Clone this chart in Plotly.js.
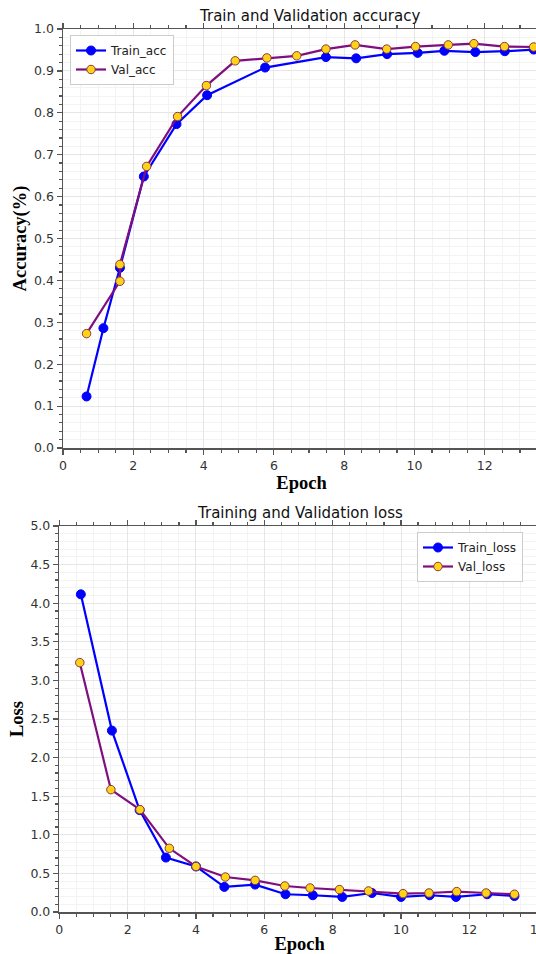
<!DOCTYPE html>
<html>
<head>
<meta charset="utf-8">
<script src="https://cdn.plot.ly/plotly-3.0.1.min.js"></script>
<style>
html,body{margin:0;padding:0;overflow:hidden;background:#fff;width:536px;height:954px;}
#chart{width:540px;height:954px;}
</style>
</head>
<body>
<div id="chart"></div>
<script>
// Accuracy chart data
const trainAccEpoch = [0.67, 1.15, 1.62, 2.30, 3.23, 4.10, 5.75, 7.48, 8.34, 9.22, 10.09, 10.85, 11.73, 12.57, 13.39];
const trainAcc      = [0.123, 0.286, 0.43, 0.648, 0.773, 0.842, 0.908, 0.933, 0.930, 0.940, 0.943, 0.948, 0.945, 0.947, 0.951];
const valAccEpoch   = [0.67, 1.62, 1.62, 2.38, 3.26, 4.08, 4.90, 5.80, 6.65, 7.48, 8.31, 9.21, 10.03, 10.96, 11.69, 12.56, 13.39];
const valAcc        = [0.273, 0.398, 0.438, 0.672, 0.791, 0.865, 0.924, 0.931, 0.936, 0.952, 0.962, 0.952, 0.958, 0.962, 0.965, 0.958, 0.957];

// Loss chart data
const trainLossEpoch = [0.63, 1.54, 2.35, 3.12, 4.0, 4.83, 5.73, 6.62, 7.42, 8.28, 9.15, 10.0, 10.84, 11.61, 12.52, 13.32];
const trainLoss      = [4.115, 2.35, 1.32, 0.705, 0.59, 0.325, 0.355, 0.23, 0.217, 0.195, 0.246, 0.195, 0.217, 0.195, 0.23, 0.207];
const valLossEpoch   = [0.60, 1.51, 2.36, 3.22, 4.0, 4.86, 5.73, 6.6, 7.34, 8.2, 9.05, 10.06, 10.82, 11.63, 12.49, 13.32];
const valLoss        = [3.23, 1.585, 1.326, 0.825, 0.59, 0.453, 0.41, 0.337, 0.311, 0.29, 0.272, 0.238, 0.246, 0.264, 0.246, 0.23];

const W = 540, H = 954;
const blue = '#0000ff', purple = '#7f0f7f', gold = '#ffd21a';

function trainTrace(x, y, name, xa, ya, lg) {
  return {x, y, name, type:'scatter', mode:'lines+markers', xaxis:xa, yaxis:ya, legend:lg,
    line:{color:blue, width:2.2}, marker:{color:blue, size:9, line:{color:blue, width:1}}};
}
function valTrace(x, y, name, xa, ya, lg) {
  return {x, y, name, type:'scatter', mode:'lines+markers', xaxis:xa, yaxis:ya, legend:lg,
    line:{color:purple, width:2.2}, marker:{color:gold, size:8.5, line:{color:'#8a3a3a', width:1}}};
}

const data = [
  trainTrace(trainAccEpoch, trainAcc, 'Train_acc', 'x', 'y', 'legend'),
  valTrace(valAccEpoch, valAcc, 'Val_acc', 'x', 'y', 'legend'),
  trainTrace(trainLossEpoch, trainLoss, 'Train_loss', 'x2', 'y2', 'legend2'),
  valTrace(valLossEpoch, valLoss, 'Val_loss', 'x2', 'y2', 'legend2')
];

const tickFont = {family:'DejaVu Sans, sans-serif', size:12.5, color:'#333'};
const axTitleFont = {family:'Liberation Serif, Times New Roman, serif', size:18.5, color:'#000', weight:'bold'};
const legFont = {family:'DejaVu Sans, sans-serif', size:12, color:'#222'};

function xAxis(domain, range, anchor) {
  return {domain, range, anchor, dtick:2, tick0:0, ticks:'outside', ticklen:5, tickwidth:1.2, tickcolor:'#555',
    showline:true, linecolor:'#555', linewidth:1.5, mirror:'ticks', zeroline:false, automargin:false,
    ticklabeloverflow:'allow',
    showgrid:true, gridcolor:'#e6e6e6', gridwidth:1,
    minor:{dtick:0.5, ticks:'outside', ticklen:3, tickcolor:'#555', showgrid:true, gridcolor:'#f3f3f3', gridwidth:1},
    tickfont:tickFont, fixedrange:true};
}
function yAxis(domain, range, dtick, mdtick, anchor, fmt) {
  return {domain, range, anchor, dtick, tick0:0, tickformat:fmt, ticks:'outside', ticklen:5, tickwidth:1.2, tickcolor:'#555',
    showline:true, linecolor:'#555', linewidth:1.5, mirror:'ticks', zeroline:false, automargin:false,
    showgrid:true, gridcolor:'#e6e6e6', gridwidth:1,
    minor:{dtick:mdtick, ticks:'outside', ticklen:3, tickcolor:'#555', showgrid:true, gridcolor:'#f3f3f3', gridwidth:1},
    tickfont:tickFont, fixedrange:true};
}

const px = v => v / W;
const py = v => 1 - v / H;

const layout = {
  width: W, height: H,
  margin:{l:0, r:0, t:0, b:0},
  paper_bgcolor:'#fff', plot_bgcolor:'#fff',
  showlegend:true,
  xaxis: Object.assign(xAxis([px(63), 1], [0, (W-63)/35.15], 'y'),
    {title:{text:'Epoch', font:axTitleFont, standoff:4}}),
  yaxis: Object.assign(yAxis([py(448), py(29)], [0, 1], 0.1, 0.02, 'x', '.1f'),
    {title:{text:'Accuracy(%)', font:axTitleFont, standoff:2}}),
  xaxis2: Object.assign(xAxis([px(59.3), 1], [0, (W-59.3)/34.17], 'y2'),
    {title:{text:'Epoch', font:axTitleFont, standoff:4}}),
  yaxis2: Object.assign(yAxis([py(912), py(526)], [0, 5], 0.5, 0.1, 'x2', '.1f'),
    {title:{text:'Loss', font:axTitleFont, standoff:2}}),
  legend:{x:px(70), y:py(35), xanchor:'left', yanchor:'top', bgcolor:'rgba(255,255,255,0.85)',
    bordercolor:'#cccccc', borderwidth:1, font:legFont, tracegroupgap:0, itemwidth:30},
  legend2:{x:px(417), y:py(532), xanchor:'left', yanchor:'top', bgcolor:'rgba(255,255,255,0.85)',
    bordercolor:'#cccccc', borderwidth:1, font:legFont, tracegroupgap:0, itemwidth:30},
  annotations:[
    {text:'Train and Validation accuracy', xref:'paper', yref:'paper', x:px(309), y:py(16), xanchor:'center', yanchor:'middle',
      showarrow:false, font:{family:'DejaVu Sans, sans-serif', size:15, color:'#111'}},
    {text:'Training and Validation loss', xref:'paper', yref:'paper', x:px(300), y:py(513), xanchor:'center', yanchor:'middle',
      showarrow:false, font:{family:'DejaVu Sans, sans-serif', size:15, color:'#111'}}
  ]
};

Plotly.newPlot('chart', data, layout, {displayModeBar:false, staticPlot:true});
</script>
</body>
</html>
